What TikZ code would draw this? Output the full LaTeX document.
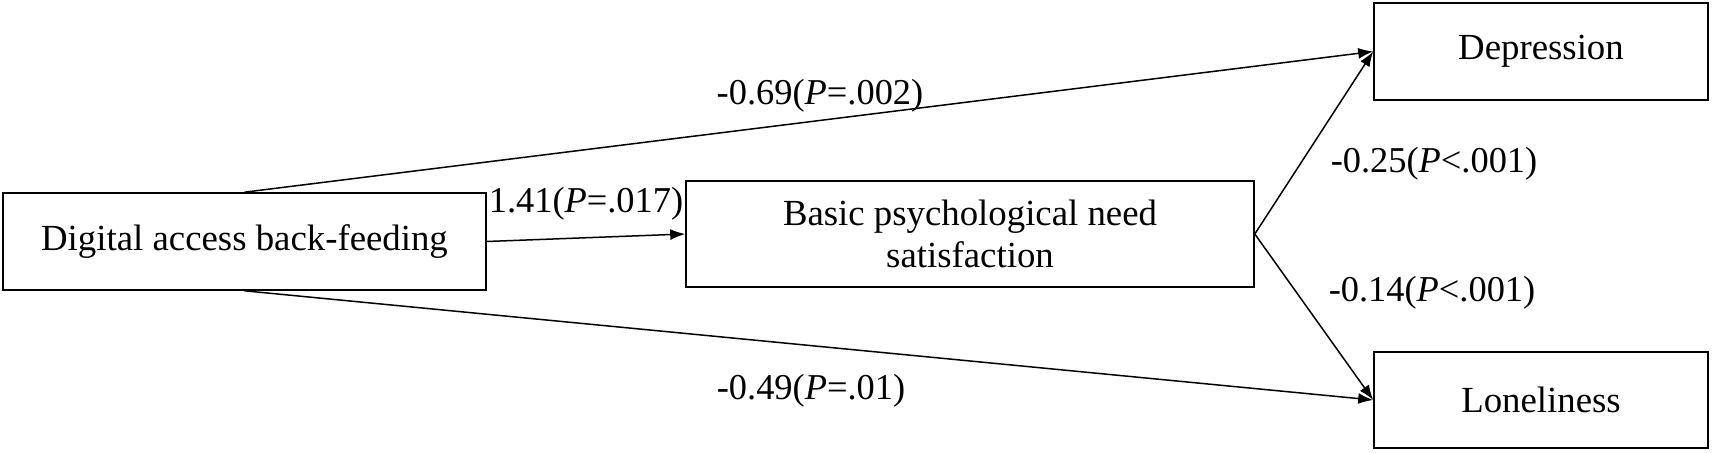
\documentclass[tikz,border=0pt]{standalone}
\usepackage{fontspec}
\setmainfont{Liberation Serif}
\usetikzlibrary{arrows.meta}
\tikzset{
  box/.style={draw, line width=0.8pt, inner sep=0pt, align=center, font=\fontsize{18.4}{21}\selectfont},
  conn/.style={line width=0.75pt, -{Latex[length=7.5pt,width=5.5pt]}},
  lbl/.style={inner sep=0pt, font=\fontsize{18.2}{21}\selectfont}
}
\begin{document}
\begin{tikzpicture}[x=0.5pt,y=-0.5pt]
\useasboundingbox (0,0) rectangle (1713,453);
\node[box, minimum width=241.5pt, minimum height=48.5pt] (dig) at (244.5,241.5) {Digital access back-feeding};
\node[box, minimum width=284pt, minimum height=53pt] (bpn) at (970,234) {Basic psychological need\\satisfaction};
\node[box, minimum width=167pt, minimum height=48.5pt] (dep) at (1541,51.5) {Depression};
\node[box, minimum width=167pt, minimum height=48pt] (lon) at (1541,400) {Loneliness};

\draw[conn] (dig.north) -- (dep.west);
\draw[conn] (dig.south) -- (lon.west);
\draw[conn] (dig.east) -- (bpn.west);
\draw[conn] (bpn.east) -- (dep.west);
\draw[conn] (bpn.east) -- (lon.west);

\node[lbl] (l1) at (820,96) {-0.69(\textit{P}=.002)};
\node[lbl] (l2) at (586,204) {1.41(\textit{P}=.017)};
\node[lbl] (l3) at (1434,164) {-0.25(\textit{P}<.001)};
\node[lbl] (l4) at (1432,293) {-0.14(\textit{P}<.001)};
\node[lbl] (l5) at (811,391) {-0.49(\textit{P}=.01)};
\end{tikzpicture}
\end{document}
